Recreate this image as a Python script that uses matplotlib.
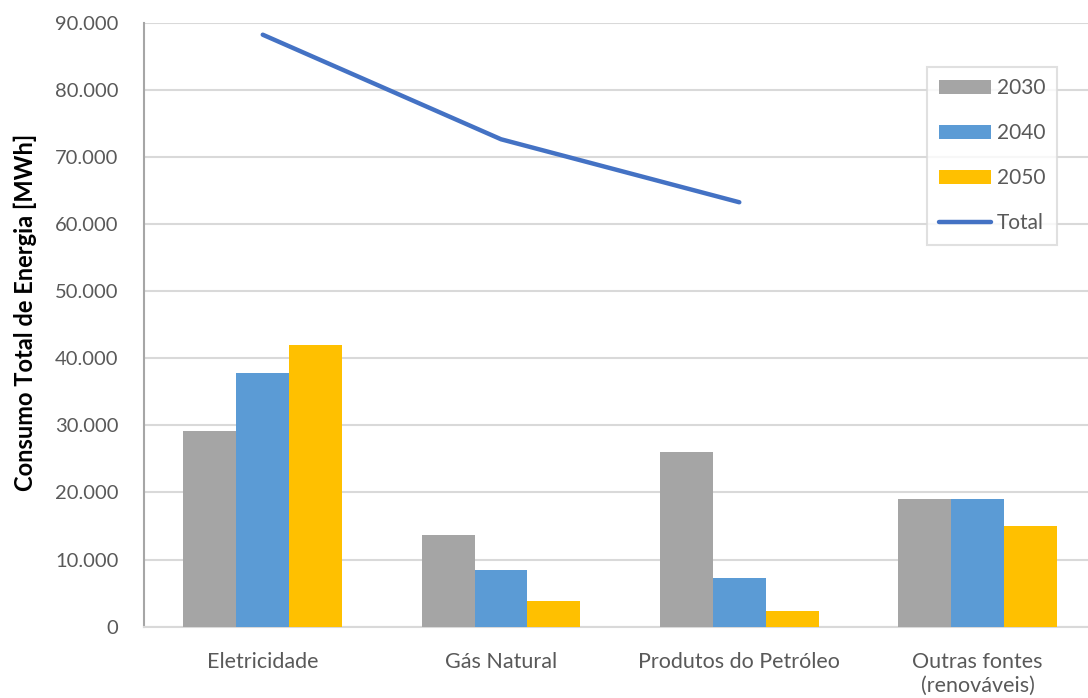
import matplotlib.pyplot as plt
import numpy as np
from matplotlib.ticker import FuncFormatter

# Data
categories = ['Eletricidade', 'Gás Natural', 'Produtos do Petróleo', 'Outras fontes\n(renováveis)']
years = ['2030', '2040', '2050']
v2030 = [29200, 13700, 26100, 19000]
v2040 = [37800, 8500, 7200, 19000]
v2050 = [42000, 3800, 2300, 15000]
total = [88300, 72700, 63300]

colors = ['#A5A5A5', '#5B9BD5', '#FFC000']
text_color = '#595959'

plt.rcParams['font.family'] = ['Lato', 'DejaVu Sans']

fig = plt.figure(figsize=(10.88, 6.98), dpi=100)
ax = fig.add_axes([0.132, 0.1024, 0.876, 0.8642])

x = np.arange(len(categories))
width = 1 / 4.5
handles = []
for i, (vals, yr) in enumerate(zip([v2030, v2040, v2050], years)):
    b = ax.bar(x + (i - 1) * width, vals, width, color=colors[i], label=yr, zorder=3)
    handles.append(b)

ln, = ax.plot(x[:len(total)], total, color='#4472C4', lw=3.2, solid_capstyle='round',
              label='Total', zorder=4)
handles.append(ln)

ax.set_xlim(-0.5, len(categories) - 0.5)
ax.set_ylim(0, 90000)
ax.set_yticks(np.arange(0, 90001, 10000))
ax.yaxis.set_major_formatter(FuncFormatter(lambda v, p: f'{int(v):,}'.replace(',', '.')))
ax.set_xticks(x)
ax.set_xticklabels(categories)

ax.grid(axis='y', color='#D9D9D9', lw=1.5, zorder=0)
ax.tick_params(axis='both', length=0, colors=text_color)
ax.tick_params(axis='y', pad=18, labelsize=14.5)
ax.tick_params(axis='x', pad=18, labelsize=15.5)
for lbl in ax.get_xticklabels():
    lbl.set_linespacing(1.25)

ax.spines['top'].set_visible(False)
ax.spines['right'].set_visible(False)
ax.spines['left'].set_color('#A6A6A6')
ax.spines['left'].set_linewidth(1.5)
ax.spines['bottom'].set_color('#D9D9D9')
ax.spines['bottom'].set_linewidth(1.5)

ax.set_ylabel('Consumo Total de Energia [MWh]', fontsize=17, fontweight='bold',
              color='black')
ax.yaxis.set_label_coords(-0.112, 0.52)

leg = fig.legend(handles=handles, labels=years + ['Total'], loc='upper right',
                 bbox_to_anchor=(0.9715, 0.904), borderaxespad=0, fontsize=15,
                 frameon=True, fancybox=False, edgecolor='#D9D9D9',
                 handlelength=2.5, handleheight=0.7, labelspacing=1.2,
                 handletextpad=0.3, borderpad=0.55)
for t in leg.get_texts():
    t.set_color(text_color)
leg.get_frame().set_linewidth(1.5)

fig.savefig('out.png', dpi=100)
